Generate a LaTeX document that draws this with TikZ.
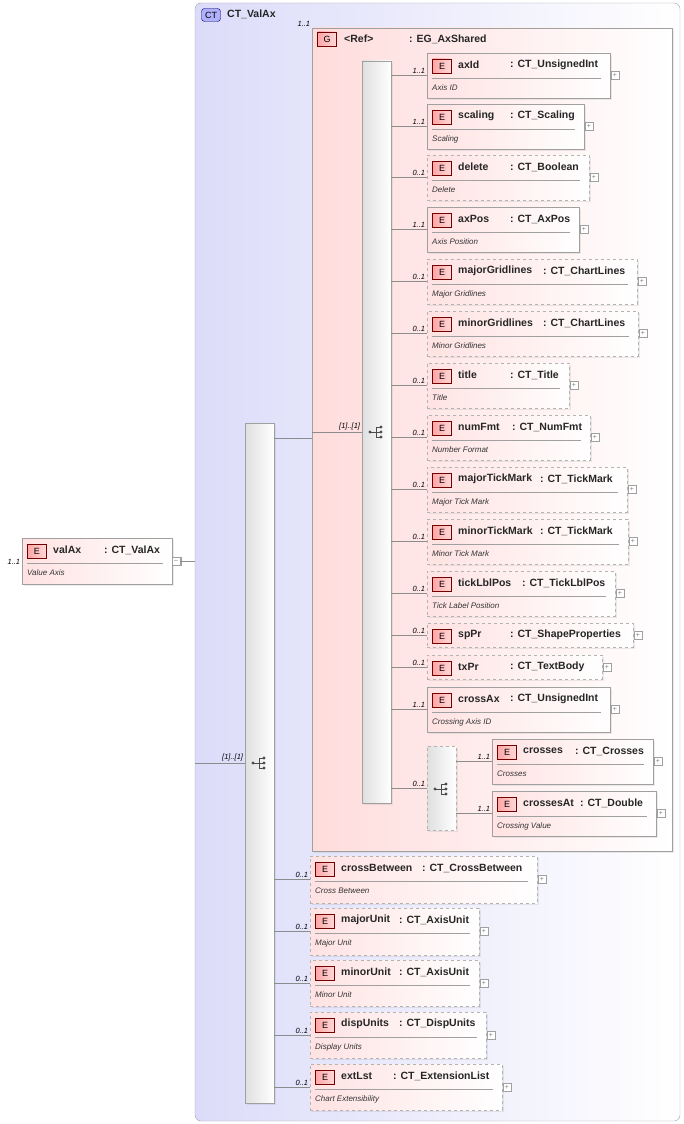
\documentclass[tikz,border=0pt]{standalone}
\usepackage{fontspec}
\setmainfont{Liberation Sans}
\usepackage{xcolor}
\usetikzlibrary{positioning, calc, fit, shadows}
\definecolor{ctfill}{HTML}{DCDCFA}
\definecolor{grpfill}{HTML}{FFDCDC}
\definecolor{elfill}{HTML}{FFE2E2}
\definecolor{frame}{HTML}{A0A0A0}
\definecolor{conn}{HTML}{8C8C8C}

\tikzset{
  elem/.style={draw=frame, inner sep=0pt, left color=elfill, right color=white,
               drop shadow={opacity=0.15, shadow xshift=2pt, shadow yshift=-2pt}},
  opt/.style={dashed, draw=frame!80},
  badge/.style={draw=red!45!black, left color=red!35, right color=red!15, minimum width=19pt,
                minimum height=14pt, inner sep=0pt, font=\fontsize{9}{10}\selectfont},
  ename/.style={anchor=west, inner sep=0pt, text=black!85, font=\fontsize{10.5}{12}\selectfont\bfseries},
  edesc/.style={anchor=west, inner sep=0pt, text=black!80, font=\fontsize{8}{9}\selectfont\itshape},
  card/.style={inner sep=1.5pt, font=\fontsize{7.5}{8}\selectfont\itshape},
  conn/.style={draw=conn, line width=0.5pt},
  plus/.style={draw=frame, minimum size=8pt, inner sep=0pt, fill=white,
               font=\fontsize{7}{7}\selectfont, text=gray},
  seqbar/.style={draw=frame, inner sep=0pt, left color=gray!25, right color=white,
                 drop shadow={opacity=0.15, shadow xshift=2pt, shadow yshift=-2pt}}
}

% [style]{name}{x}{ytop}{xright}{height}{typex}{type}{desc}
\newcommand\elbox[9][]{%
  \node[elem, #1, fit={(#3,#4) (#5,#4+#6)}] (#2) {};
  \node[badge] (#2-b) at (#3+15,#4+13) {E};
  \node[ename] (#2-n) at (#3+31,#4+12) {#2};
  \node[ename] (#2-t) at (#7,#4+12) {: #8};
  \ifx\relax#9\relax\else
    \draw[frame] (#3+5,#4+25) -- (#5-9,#4+25);
    \node[edesc] (#2-d) at (#3+5,#4+35) {#9};
  \fi
  \node[plus] (#2-p) at (#5+5,#4+#6/2) {+};
}
\newcommand\seqicon[2]{%
  \fill[black!70] (#1,#2) circle (1.7pt);
  \draw[black!70, line width=0.8pt] (#1,#2) -- (#1+6,#2)
    (#1+6,#2-5) -- (#1+6,#2+5)
    (#1+6,#2-5) -- (#1+11,#2-5) (#1+6,#2) -- (#1+11,#2) (#1+6,#2+5) -- (#1+11,#2+5);
  \foreach \dy in {-5,0,5} \fill[black!70] (#1+11,#2+\dy) circle (1.7pt);
}

\begin{document}
\begin{tikzpicture}[x=1pt, y=-1pt]
  \useasboundingbox (0,0) rectangle (684,1124);

  % complex type frame
  \node[draw=frame, rounded corners=6pt, left color=ctfill, right color=white,
        inner sep=0pt, fit={(195,3) (680,1121)}] (ct) {};
  \node[draw=blue!40!black, fill=ctfill!80!blue, rounded corners=3pt, minimum width=19pt,
        minimum height=13pt, inner sep=0pt, font=\fontsize{9}{10}\selectfont] (ct-b) at (211,15) {CT};
  \node[ename] (ct-n) at (227,14) {CT\_ValAx};

  % root element
  \elbox{valAx}{22}{538}{172}{46}{104}{CT\_ValAx}{Value Axis}
  \node[card, anchor=east] at (valAx.west) [yshift=-1pt] {1..1};
  \node[plus] (valAx-m) at (176,561) {--};
  \draw[conn] (valAx-m.east) -- (ct.west |- valAx-m.east);

  % outer sequence
  \node[seqbar, fit={(245,423) (274,1103)}] (seqA) {};
  \seqicon{253}{763}
  \draw[conn] (ct.west |- 0,763) -- (seqA.west |- 0,763)
    node[card, anchor=south east, pos=1] {[1]..[1]};

  % group
  \node[draw=frame, inner sep=0pt, left color=grpfill, right color=white,
        drop shadow={opacity=0.15, shadow xshift=2pt, shadow yshift=-2pt},
        fit={(312,28) (672,851)}] (grp) {};
  \node[badge] (grp-b) at (327,39) {G};
  \node[ename] (grp-n) at (344,39) {<Ref>};
  \node[ename] (grp-t) at (409,39) {: EG\_AxShared};
  \node[card, anchor=south east] at (grp.north west) {1..1};
  \draw[conn] (seqA.east |- 0,438) -- (grp.west |- 0,438);

  % inner sequence
  \node[seqbar, fit={(362,61) (391,803)}] (seqB) {};
  \seqicon{370}{432}
  \draw[conn] (grp.west |- 0,432) -- (seqB.west |- 0,432)
    node[card, anchor=south east, pos=1] {[1]..[1]};

  \elbox{axId}{427}{53}{610}{45}{510}{CT\_UnsignedInt}{Axis ID}
  \elbox{scaling}{427}{104}{584}{45}{510}{CT\_Scaling}{Scaling}
  \elbox[opt]{delete}{427}{155}{589}{45}{510}{CT\_Boolean}{Delete}
  \elbox{axPos}{427}{207}{579}{45}{510}{CT\_AxPos}{Axis Position}
  \elbox[opt]{majorGridlines}{427}{259}{637}{45}{543}{CT\_ChartLines}{Major Gridlines}
  \elbox[opt]{minorGridlines}{427}{311}{638}{45}{543}{CT\_ChartLines}{Minor Gridlines}
  \elbox[opt]{title}{427}{363}{569}{45}{510}{CT\_Title}{Title}
  \elbox[opt]{numFmt}{427}{415}{590}{45}{512}{CT\_NumFmt}{Number Format}
  \elbox[opt]{majorTickMark}{427}{467}{627}{45}{540}{CT\_TickMark}{Major Tick Mark}
  \elbox[opt]{minorTickMark}{427}{519}{628}{45}{540}{CT\_TickMark}{Minor Tick Mark}
  \elbox[opt]{tickLblPos}{427}{571}{615}{45}{522}{CT\_TickLblPos}{Tick Label Position}
  \elbox[opt]{spPr}{427}{623}{633}{24}{510}{CT\_ShapeProperties}{}
  \elbox[opt]{txPr}{427}{655}{602}{24}{510}{CT\_TextBody}{}
  \elbox{crossAx}{427}{687}{610}{45}{510}{CT\_UnsignedInt}{Crossing Axis ID}

  % choice
  \node[seqbar, opt, fit={(427,746) (456,830)}] (choice) {};
  \seqicon{435}{789}

  \foreach \n/\c in {axId/1..1, scaling/1..1, delete/0..1, axPos/1..1,
      majorGridlines/0..1, minorGridlines/0..1, title/0..1, numFmt/0..1,
      majorTickMark/0..1, minorTickMark/0..1, tickLblPos/0..1, spPr/0..1,
      txPr/0..1, crossAx/1..1, choice/0..1}
    \draw[conn] (seqB.east |- \n.west) -- (\n.west)
      node[card, anchor=south east, pos=1] {\c};

  \elbox{crosses}{492}{739}{653}{45}{575}{CT\_Crosses}{Crosses}
  \elbox{crossesAt}{492}{791}{656}{45}{580}{CT\_Double}{Crossing Value}
  \foreach \n in {crosses, crossesAt}
    \draw[conn] (choice.east |- \n.west) -- (\n.west)
      node[card, anchor=south east, pos=1] {1..1};

  % remaining elements
  \elbox[opt]{crossBetween}{310}{856}{537}{47}{422}{CT\_CrossBetween}{Cross Between}
  \elbox[opt]{majorUnit}{310}{908}{479}{47}{399}{CT\_AxisUnit}{Major Unit}
  \elbox[opt]{minorUnit}{310}{960}{479}{46}{399}{CT\_AxisUnit}{Minor Unit}
  \elbox[opt]{dispUnits}{310}{1012}{486}{46}{399}{CT\_DispUnits}{Display Units}
  \elbox[opt]{extLst}{310}{1064}{502}{46}{393}{CT\_ExtensionList}{Chart Extensibility}
  \foreach \n in {crossBetween, majorUnit, minorUnit, dispUnits, extLst}
    \draw[conn] (seqA.east |- \n.west) -- (\n.west)
      node[card, anchor=south east, pos=1] {0..1};
\end{tikzpicture}
\end{document}
